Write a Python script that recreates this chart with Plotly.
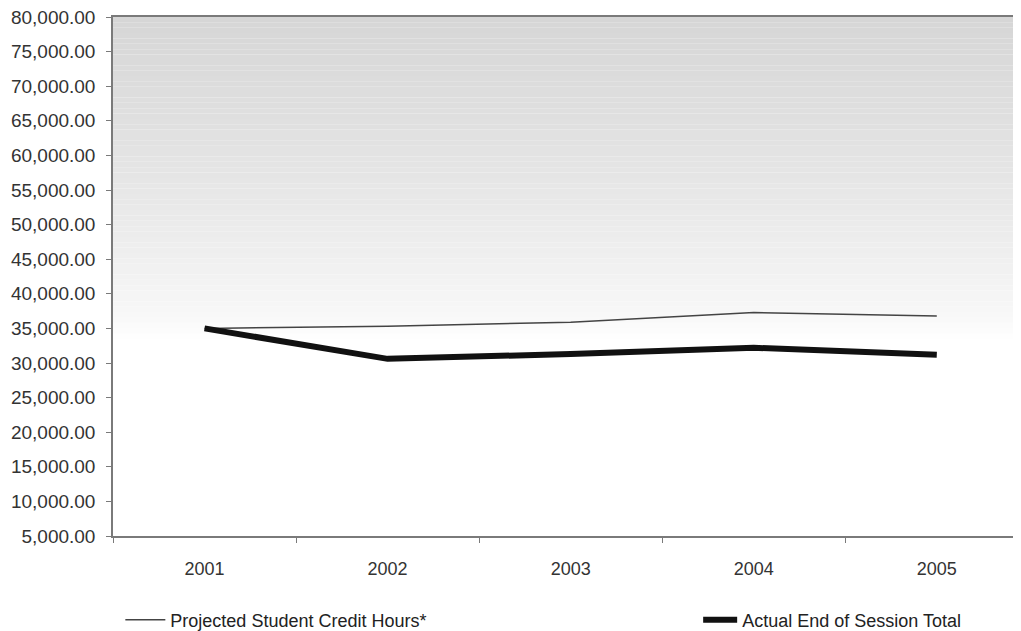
import plotly.graph_objects as go

years = ["2001", "2002", "2003", "2004", "2005"]
projected = [35000, 35300, 35900, 37300, 36800]
actual = [35000, 30600, 31300, 32200, 31200]

FONT = dict(family="Liberation Sans, Arial, sans-serif", size=18, color="#333333")
LEG_FONT = dict(family="Liberation Sans, Arial, sans-serif", size=18, color="#222222")

fig = go.Figure()

fig.add_trace(go.Scatter(
    name="Projected Student Credit Hours*",
    x=years, y=projected,
    mode="lines",
    line=dict(color="#444444", width=1.5),
    legend="legend",
))
fig.add_trace(go.Scatter(
    name="Actual End of Session Total",
    x=years, y=actual,
    mode="lines",
    line=dict(color="#111111", width=6),
    legend="legend2",
))

# grey-to-white gradient backdrop in the upper part of the plot area
n_bands = 60
lo, hi = 0.38, 1.0
for i in range(n_bands):
    f0 = lo + (hi - lo) * i / n_bands
    f1 = lo + (hi - lo) * (i + 1) / n_bands
    t = (i + 0.5) / n_bands
    g = int(round(255 - (255 - 214) * (t ** 0.7)))
    fig.add_shape(
        type="rect", xref="x domain", yref="y domain",
        x0=0, x1=1, y0=f0, y1=f1,
        fillcolor=f"rgb({g},{g},{g})", line=dict(width=0), layer="below",
    )

fig.update_layout(
    width=1013, height=623,
    plot_bgcolor="white", paper_bgcolor="white",
    font=FONT,
    margin=dict(l=105, r=0, t=9, b=95, autoexpand=False),
    showlegend=True,
    legend=dict(
        xref="container", yref="container",
        x=0.1109, y=0.0177, xanchor="left", yanchor="middle",
        font=LEG_FONT, bgcolor="rgba(0,0,0,0)", itemwidth=40,
    ),
    legend2=dict(
        xref="container", yref="container",
        x=0.6813, y=0.0177, xanchor="left", yanchor="middle",
        font=LEG_FONT, bgcolor="rgba(0,0,0,0)", itemwidth=34,
    ),
    xaxis=dict(
        type="category", range=[-0.5, 4.46], automargin=False,
        showline=True, linecolor="#7a7a7a", linewidth=1.5, mirror=True,
        ticks="outside", ticklen=5, tickcolor="#7a7a7a", tickson="boundaries",
        showgrid=False, ticklabelstandoff=16,
    ),
    yaxis=dict(
        range=[5000, 80000], dtick=5000, tick0=5000, tickformat=",.2f",
        automargin=False, ticklabeloverflow="allow",
        showline=True, linecolor="#7a7a7a", linewidth=1.5,
        ticks="outside", ticklen=5, tickcolor="#7a7a7a",
        showgrid=False, zeroline=False, ticklabelstandoff=7,
        tickfont=dict(size=19),
    ),
)

fig.write_html("out.html")
